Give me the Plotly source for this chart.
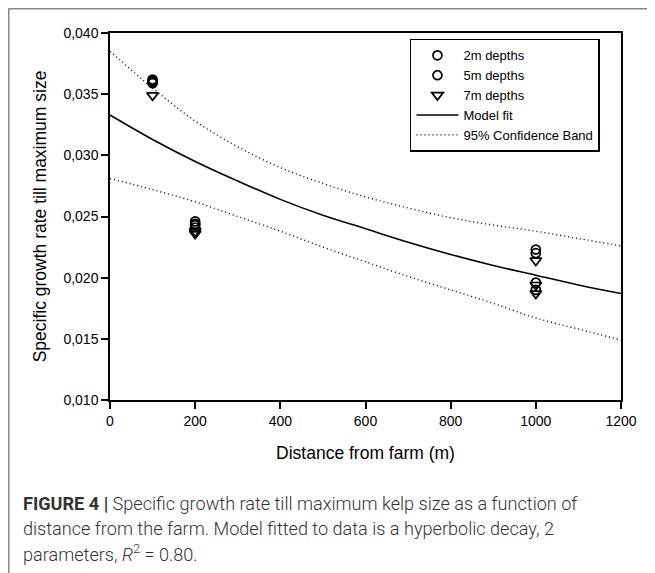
import plotly.graph_objects as go

# ---- data ----
dist_2m = [100, 100, 200, 200, 1000, 1000]
gr_2m = [0.0362, 0.0360, 0.0246, 0.0243, 0.0223, 0.0196]
dist_5m = [100, 100, 200, 200, 1000, 1000]
gr_5m = [0.0361, 0.0359, 0.0244, 0.0241, 0.0220, 0.0190]
dist_7m = [100, 200, 200, 1000, 1000, 1000]
gr_7m = [0.0349, 0.0238, 0.0236, 0.0214, 0.0194, 0.0187]

curve_x = [0, 100, 200, 300, 400, 500, 600, 700, 800, 900, 1000, 1100, 1200]
fit_y = [0.0333, 0.0313, 0.0295, 0.0279, 0.0264, 0.0251, 0.0240, 0.0229, 0.0219,
         0.0210, 0.0202, 0.0194, 0.0187]
upper_y = [0.0385, 0.0355, 0.0328, 0.0307, 0.0290, 0.0277, 0.0266, 0.0257, 0.0249,
           0.0243, 0.0238, 0.0232, 0.0226]
lower_y = [0.0281, 0.0272, 0.0262, 0.0250, 0.0238, 0.0225, 0.0213, 0.0201, 0.0190,
           0.0179, 0.0167, 0.0158, 0.0149]

x_ticks = [0, 200, 400, 600, 800, 1000, 1200]
y_ticks = [0.010, 0.015, 0.020, 0.025, 0.030, 0.035, 0.040]

caption_lines = [
    "<b>FIGURE 4 |</b> Specific growth rate till maximum kelp size as a function of",
    "distance from the farm. Model fitted to data is a hyperbolic decay, 2",
    "parameters, <i>R</i><sup>2</sup> = 0.80.",
]
caption_y = [-0.2807, -0.3488, -0.4169]

fig = go.Figure()
mk_line = dict(color="black", width=1.7)
fig.add_trace(go.Scatter(x=dist_2m, y=gr_2m, mode="markers", name="2m depths",
                         marker=dict(symbol="circle-open", size=9, line=mk_line, color="black")))
fig.add_trace(go.Scatter(x=dist_5m, y=gr_5m, mode="markers", name="5m depths",
                         marker=dict(symbol="circle-open", size=9, line=mk_line, color="black")))
fig.add_trace(go.Scatter(x=dist_7m, y=gr_7m, mode="markers", name="7m depths",
                         marker=dict(symbol="triangle-down-open", size=10, line=mk_line, color="black")))
fig.add_trace(go.Scatter(x=curve_x, y=fit_y, mode="lines", name="Model fit",
                         line=dict(color="black", width=1.6, shape="spline")))
fig.add_trace(go.Scatter(x=curve_x, y=upper_y, mode="lines",
                         name="95% Confidence Band",
                         line=dict(color="black", width=1.4, dash="1px,3px", shape="spline")))
fig.add_trace(go.Scatter(x=curve_x, y=lower_y, mode="lines", showlegend=False,
                         line=dict(color="black", width=1.4, dash="1px,3px", shape="spline")))

axis_common = dict(showline=True, linecolor="black", linewidth=1.5, mirror=True,
                   ticks="outside", ticklen=7, tickwidth=1.5, tickcolor="black",
                   showgrid=False, zeroline=False,
                   tickfont=dict(family="Liberation Sans, Arial", size=14, color="black"))

fig.update_xaxes(range=[0, 1200], tickvals=x_ticks, **axis_common,
                 title=dict(text="Distance from farm (m)", standoff=19,
                            font=dict(family="Liberation Sans, Arial", size=17.5, color="black")))
fig.update_yaxes(range=[0.010, 0.040], tickvals=y_ticks, tickformat=".3f", **axis_common,
                 title=dict(text="Specific growth rate till maximum size", standoff=12,
                            font=dict(family="Liberation Sans, Arial", size=17.5, color="black")))

fig.update_layout(
    width=655, height=573,
    margin=dict(l=102, r=42, t=25, b=181),
    paper_bgcolor="white", plot_bgcolor="white",
    separators=", ",
    showlegend=True,
    legend=dict(x=0.587, y=0.984, xanchor="left", yanchor="top",
                bordercolor="black", borderwidth=1.5, bgcolor="white",
                font=dict(family="Liberation Sans, Arial", size=13, color="black"),
                tracegroupgap=0, itemwidth=42, entrywidth=160, entrywidthmode="pixels"),
    font=dict(family="Liberation Sans, Arial", color="black"),
    shapes=[
        dict(type="line", xref="paper", yref="paper", x0=-0.1986, x1=1.1, y0=1.0668, y1=1.0668,
             line=dict(color="#8a8a8a", width=2)),
        dict(type="line", xref="paper", yref="paper", x0=-0.1986, x1=-0.1986, y0=1.0668, y1=-0.48,
             line=dict(color="#8a8a8a", width=2)),
    ],
    annotations=[dict(text=t, xref="paper", yref="paper", x=-0.1742, y=yy,
                      xanchor="left", yanchor="middle", align="left", showarrow=False,
                      font=dict(family="Roboto", size=18.1, color="#333333", weight=300))
                 for t, yy in zip(caption_lines, caption_y)],
)

fig.write_html("out.html")
